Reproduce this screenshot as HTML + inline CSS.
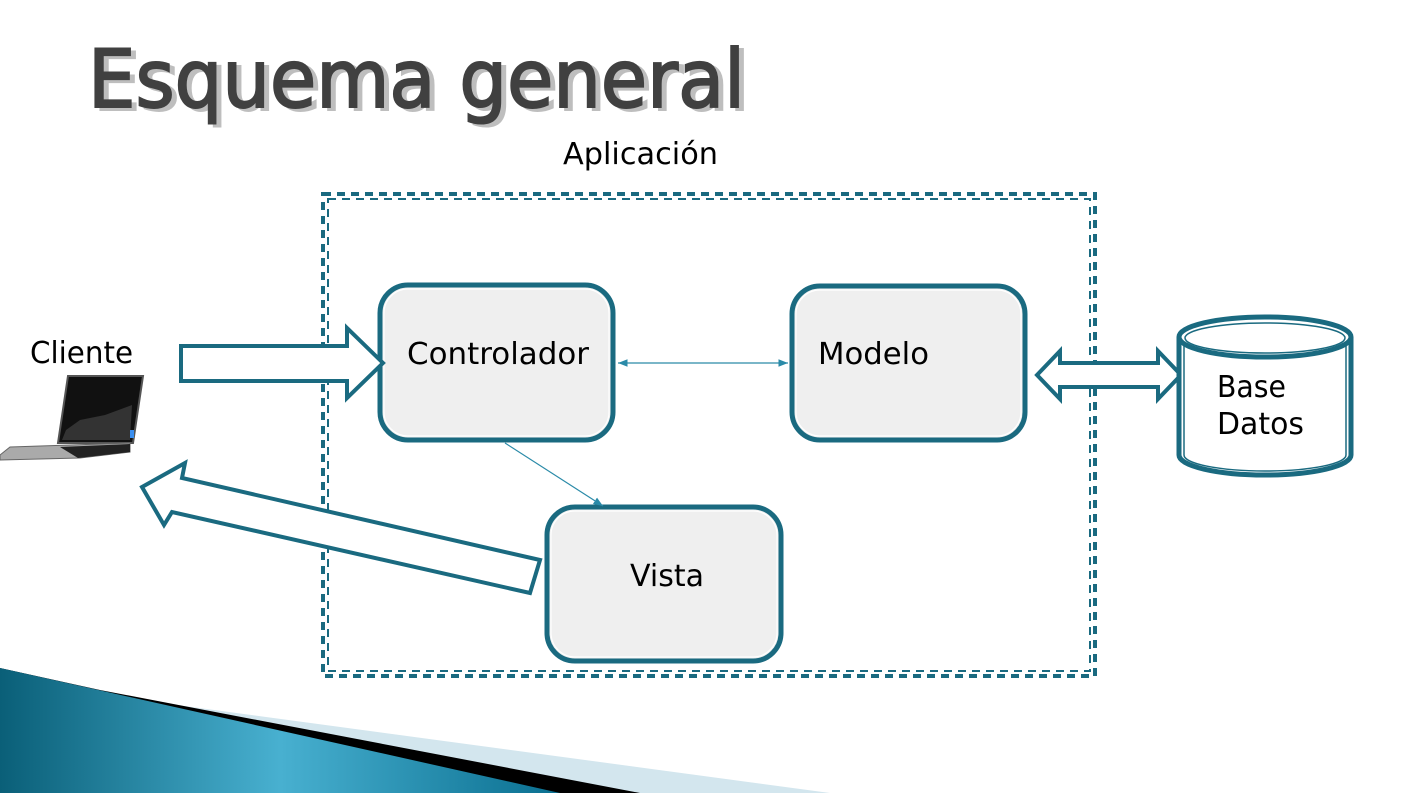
<!DOCTYPE html>
<html><head><meta charset="utf-8"><style>html,body{margin:0;padding:0;background:#fff}svg{display:block}</style></head><body>
<svg width="1409" height="793" viewBox="0 0 1409 793" xmlns="http://www.w3.org/2000/svg" font-family="DejaVu Sans, Liberation Sans, sans-serif">
<defs>
<linearGradient id="bg" x1="0" y1="0" x2="1" y2="0">
<stop offset="0" stop-color="#0a5f78"/><stop offset="0.5" stop-color="#48b0d0"/><stop offset="1" stop-color="#0a6f90"/>
</linearGradient>
<marker id="ah" viewBox="0 0 10 10" refX="10" refY="5" markerWidth="8" markerHeight="8" orient="auto-start-reverse"><path d="M0,1 L10,5 L0,9 z" fill="#2a8aa8"/></marker>
</defs>
<!-- title -->
<text x="90" y="107" font-size="80" fill="#000" opacity="0.25" stroke="#000" stroke-width="2" textLength="657" lengthAdjust="spacingAndGlyphs" transform="translate(3,3)">Esquema general</text>
<text x="88" y="107" font-size="80" fill="#404040" stroke="#404040" stroke-width="2" textLength="657" lengthAdjust="spacingAndGlyphs">Esquema general</text>
<text x="563" y="164" font-size="30" fill="#000" textLength="155" lengthAdjust="spacingAndGlyphs">Aplicación</text>
<!-- dashed container -->
<g fill="none" stroke="#1a6a80" stroke-dasharray="8,6">
<rect x="323" y="194" width="772" height="482" stroke-width="4"/>
<rect x="328" y="199" width="762" height="472" stroke-width="2"/>
</g>
<!-- boxes -->
<g fill="#efefef" stroke="#1a6a80">
<rect x="380" y="285" width="233" height="155" rx="28" stroke-width="5"/>
<rect x="792" y="286" width="233" height="154" rx="28" stroke-width="5"/>
<rect x="547" y="507" width="234" height="154" rx="28" stroke-width="5"/>
</g>
<g fill="none" stroke="#fff" stroke-width="1.2">
<rect x="384" y="289" width="225" height="147" rx="24"/>
<rect x="796" y="290" width="225" height="146" rx="24"/>
<rect x="551" y="511" width="226" height="146" rx="24"/>
</g>
<!-- thin connectors -->
<line x1="618" y1="363" x2="788" y2="363" stroke="#2a8aa8" stroke-width="1.2" marker-start="url(#ah)" marker-end="url(#ah)"/>
<line x1="505" y1="443" x2="603" y2="506" stroke="#2a8aa8" stroke-width="1.2" marker-end="url(#ah)"/>
<!-- block arrows -->
<g fill="#fff" stroke="#1a6a80" stroke-width="4" stroke-linejoin="miter">
<polygon points="181,346 347,346 347,328 383,363 347,398 347,381 181,381"/>
<polygon points="540,560 182,478 185,463 142,487 164,525 172,512 530,593"/>
<polygon points="1037,375 1060,351 1060,363 1158,363 1158,351 1181,375 1158,399 1158,387 1060,387 1060,399"/>
</g>
<!-- cylinder -->
<g stroke="#1a6a80" fill="#fff">
<path d="M1179,337 L1179,455 A86,20 0 0 0 1351,455 L1351,337" stroke-width="5"/>
<ellipse cx="1265" cy="337" rx="86" ry="20" stroke-width="5"/>
<ellipse cx="1265" cy="338" rx="80" ry="15" fill="none" stroke-width="1.5"/>
</g>
<line x1="1184" y1="345" x2="1184" y2="455" stroke="#1a6a80" stroke-width="1.5"/>
<line x1="1346" y1="345" x2="1346" y2="455" stroke="#1a6a80" stroke-width="1.5"/>
<path d="M1184,455 A81,16 0 0 0 1346,455" fill="none" stroke="#1a6a80" stroke-width="1.5"/>
<g font-size="30" fill="#000">
<text x="407" y="364" textLength="182" lengthAdjust="spacingAndGlyphs">Controlador</text>
<text x="818" y="364" textLength="111" lengthAdjust="spacingAndGlyphs">Modelo</text>
<text x="630" y="586" textLength="74" lengthAdjust="spacingAndGlyphs">Vista</text>
<text x="30" y="363" textLength="103" lengthAdjust="spacingAndGlyphs">Cliente</text>
<text x="1217" y="397" textLength="69" lengthAdjust="spacingAndGlyphs">Base</text>
<text x="1217" y="434" textLength="87" lengthAdjust="spacingAndGlyphs">Datos</text>
</g>
<!-- laptop -->
<g>
<polygon points="68,376 143,376 133,443 58,443" fill="#111" stroke="#555" stroke-width="2"/>
<polygon points="66,430 80,420 105,415 132,405 130,440 62,440" fill="#333"/>
<rect x="130" y="430" width="4" height="8" fill="#3a8ff0"/>
<polygon points="0,455 10,447 130,443 130,452 80,458 0,460" fill="#aaa" stroke="#666" stroke-width="1"/>
<polygon points="60,447 130,444 130,452 78,458" fill="#222"/>
</g>
<!-- bottom swoosh -->
<polygon points="0,668 140,700 830,793 0,793" fill="#d3e6ee"/>
<polygon points="0,668 100,690 640,793 0,793" fill="#000"/>
<polygon points="0,668 560,793 0,793" fill="url(#bg)"/>
</svg>
</body></html>
